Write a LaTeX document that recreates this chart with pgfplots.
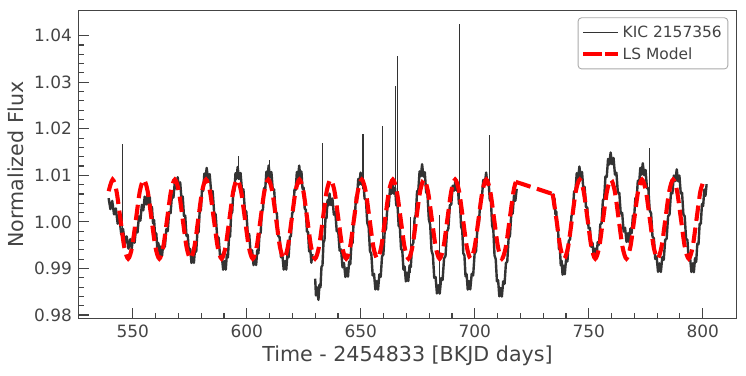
\documentclass[border=0pt]{standalone}
\usepackage{fontspec}
\setmainfont{DejaVu Sans}
\usepackage{pgfplots}
\usepackage{pgfplotstable}
\pgfplotsset{compat=1.18}
\definecolor{textgrey}{HTML}{444444}
\definecolor{spinecol}{HTML}{444444}
\definecolor{datacol}{HTML}{333333}
\definecolor{legendgrey}{HTML}{AAAAAA}

\pgfplotstableread{
t f
539.40 1.00510
540.19 1.00275
540.98 1.00451
541.78 1.00161
542.57 1.00290
543.36 0.99964
544.15 1.00070
544.94 0.99736
545.73 0.99850
546.53 0.99539
547.32 0.99689
548.11 0.99425
548.90 0.99630
549.53 0.99427
550.17 0.99696
550.80 0.99553
551.43 0.99875
552.07 0.99773
552.70 1.00120
553.33 1.00027
553.97 1.00365
554.60 1.00247
555.23 1.00544
555.87 1.00373
556.50 1.00610
556.98 1.00371
557.45 1.00534
557.93 1.00223
558.40 1.00325
558.88 0.99968
559.35 1.00040
559.83 0.99672
560.30 0.99755
560.78 0.99417
561.25 0.99546
561.73 0.99269
562.20 0.99470
562.83 0.99275
563.45 0.99570
564.08 0.99468
564.70 0.99843
565.33 0.99802
565.95 1.00215
566.58 1.00188
567.20 1.00588
567.83 1.00522
568.45 1.00860
569.08 1.00715
569.70 1.00960
570.25 1.00712
570.80 1.00849
571.35 1.00498
571.90 1.00547
572.45 1.00129
573.00 1.00135
573.55 0.99701
574.10 0.99722
574.65 0.99332
575.20 0.99421
575.75 0.99118
576.30 0.99310
576.81 0.99121
577.32 0.99434
577.83 0.99361
578.33 0.99773
578.84 0.99776
579.35 1.00235
579.86 1.00254
580.37 1.00698
580.88 1.00669
581.38 1.01036
581.89 1.00909
582.40 1.01160
583.06 1.00906
583.72 1.01026
584.38 1.00647
585.03 1.00660
585.69 1.00199
586.35 1.00160
587.01 0.99681
587.67 0.99660
588.33 0.99233
588.98 0.99294
589.64 0.98974
590.30 0.99160
590.78 0.98974
591.25 0.99295
591.73 0.99236
592.20 0.99665
592.68 0.99689
593.15 1.00170
593.63 1.00211
594.10 1.00675
594.58 1.00664
595.05 1.01045
595.53 1.00926
596.00 1.01180
596.63 1.00927
597.27 1.01051
597.90 1.00679
598.53 1.00700
599.17 1.00248
599.80 1.00220
600.43 0.99752
601.07 0.99740
601.70 0.99321
602.33 0.99389
602.97 0.99073
603.60 0.99260
604.10 0.99073
604.60 0.99391
605.10 0.99325
605.60 0.99748
606.10 0.99763
606.60 1.00235
607.10 1.00267
607.60 1.00723
608.10 1.00705
608.60 1.01079
609.10 1.00957
609.60 1.01210
610.20 1.00955
610.80 1.01073
611.40 1.00690
612.00 1.00697
612.60 1.00230
613.20 1.00185
613.80 0.99700
614.40 0.99672
615.00 0.99240
615.60 0.99297
616.20 0.98975
616.80 0.99160
617.32 0.98975
617.83 0.99297
618.35 0.99240
618.87 0.99673
619.38 0.99700
619.90 1.00185
620.42 1.00230
620.93 1.00698
621.45 1.00690
621.97 1.01073
622.48 1.00955
623.00 1.01210
623.48 1.00958
623.97 1.01083
624.45 1.00712
624.93 1.00735
625.42 1.00286
625.90 1.00260
626.38 0.99794
626.87 0.99785
627.35 0.99368
627.83 0.99437
628.32 0.99122
628.80 0.99310
nan nan
630.00 0.98780
630.35 0.98420
630.70 0.98600
631.00 0.98510
631.44 0.98326
631.88 0.98651
632.33 0.98597
632.77 0.99035
633.21 0.99068
633.65 0.99560
634.09 0.99612
634.53 1.00085
634.98 1.00083
635.42 1.00469
635.86 1.00354
636.30 1.00610
636.93 1.00363
637.57 1.00503
638.20 1.00156
638.83 1.00210
639.47 0.99797
640.10 0.99810
640.73 0.99383
641.37 0.99410
642.00 0.99024
642.63 0.99117
643.27 0.98817
643.90 0.99010
644.40 0.98825
644.90 0.99147
645.40 0.99090
645.90 0.99523
646.40 0.99550
646.90 1.00035
647.40 1.00080
647.90 1.00548
648.40 1.00540
648.90 1.00923
649.40 1.00805
649.90 1.01060
650.49 1.00800
651.08 1.00904
651.68 1.00499
652.27 1.00477
652.86 0.99977
653.45 0.99895
654.04 0.99373
654.63 0.99312
655.23 0.98851
655.82 0.98886
656.41 0.98550
657.00 0.98730
657.58 0.98546
658.17 0.98873
658.75 0.98822
659.33 0.99263
659.92 0.99299
660.50 0.99795
661.08 0.99851
661.67 1.00328
662.25 1.00328
662.83 1.00717
663.42 1.00604
664.00 1.00860
664.53 1.00607
665.05 1.00729
665.58 1.00355
666.10 1.00372
666.63 0.99917
667.15 0.99885
667.68 0.99413
668.20 0.99397
668.73 0.98975
669.25 0.99041
669.78 0.98723
670.30 0.98910
670.85 0.98730
671.40 0.99066
671.95 0.99031
672.50 0.99493
673.05 0.99553
673.60 1.00075
674.15 1.00157
674.70 1.00658
675.25 1.00679
675.80 1.01084
676.35 1.00980
676.90 1.01240
677.49 1.00976
678.08 1.01066
678.68 1.00639
679.27 1.00590
679.86 1.00056
680.45 0.99940
681.04 0.99384
681.63 0.99290
682.23 0.98801
682.82 0.98814
683.41 0.98464
684.00 0.98640
684.63 0.98459
685.27 0.98793
685.90 0.98755
686.53 0.99213
687.17 0.99269
687.80 0.99785
688.43 0.99861
689.07 1.00358
689.70 1.00375
690.33 1.00777
690.97 1.00671
691.60 1.00930
692.08 1.00673
692.57 1.00783
693.05 1.00388
693.53 1.00380
694.02 0.99895
694.50 0.99830
694.98 0.99325
695.47 0.99280
695.95 0.98832
696.43 0.98877
696.92 0.98547
697.40 0.98730
698.03 0.98550
698.67 0.98886
699.30 0.98851
699.93 0.99313
700.57 0.99373
701.20 0.99895
701.83 0.99977
702.47 1.00478
703.10 1.00499
703.73 1.00904
704.37 1.00800
705.00 1.01060
705.53 1.00798
706.05 1.00894
706.58 1.00477
707.10 1.00440
707.63 0.99921
708.15 0.99820
708.68 0.99279
709.20 0.99200
709.73 0.98723
710.25 0.98746
710.78 0.98402
711.30 0.98580
711.89 0.98396
712.48 0.98723
713.08 0.98672
713.67 0.99113
714.26 0.99149
714.85 0.99645
715.44 0.99701
716.03 1.00178
716.63 1.00178
717.22 1.00567
717.81 1.00454
718.40 1.00710
nan nan
734.20 1.00610
734.59 1.00364
734.98 1.00506
735.38 1.00163
735.77 1.00222
736.16 0.99816
736.55 0.99835
736.94 0.99414
737.33 0.99447
737.73 0.99067
738.12 0.99164
738.51 0.98866
738.90 0.99060
739.48 0.98876
740.07 0.99203
740.65 0.99152
741.23 0.99593
741.82 0.99629
742.40 1.00125
742.98 1.00181
743.57 1.00658
744.15 1.00658
744.73 1.01047
745.32 1.00934
745.90 1.01190
746.48 1.00940
747.05 1.01072
747.63 1.00712
748.20 1.00750
748.78 1.00318
749.35 1.00310
749.93 0.99862
750.50 0.99870
751.08 0.99468
751.65 0.99548
752.23 0.99240
752.80 0.99430
753.37 0.99245
753.93 0.99568
754.50 0.99512
755.07 0.99945
755.63 0.99973
756.20 1.00460
756.77 1.00507
757.33 1.00975
757.90 1.00968
758.47 1.01352
759.03 1.01235
759.60 1.01490
760.23 1.01241
760.87 1.01374
761.50 1.01017
762.13 1.01057
762.77 1.00629
763.40 1.00625
764.03 1.00181
764.67 1.00192
765.30 0.99793
765.93 0.99876
766.57 0.99569
767.20 0.99760
767.74 0.99566
768.28 0.99861
768.83 0.99760
769.37 1.00135
769.91 1.00096
770.45 1.00510
770.99 1.00484
771.53 1.00885
772.08 1.00820
772.62 1.01160
773.16 1.01015
773.70 1.01260
774.31 1.01003
774.92 1.01116
775.53 1.00725
776.13 1.00722
776.74 1.00243
777.35 1.00185
777.96 0.99687
778.57 0.99647
779.18 0.99205
779.78 0.99254
780.39 0.98927
781.00 0.99110
781.63 0.98924
782.27 0.99245
782.90 0.99186
783.53 0.99615
784.17 0.99639
784.80 1.00120
785.43 1.00161
786.07 1.00625
786.70 1.00614
787.33 1.00995
787.97 1.00876
788.60 1.01130
789.18 1.00876
789.77 1.00995
790.35 1.00614
790.93 1.00625
791.52 1.00161
792.10 1.00120
792.68 0.99639
793.27 0.99615
793.85 0.99186
794.43 0.99245
795.02 0.98924
795.60 0.99110
796.11 0.98919
796.62 0.99224
797.12 0.99139
797.63 0.99535
798.14 0.99520
798.65 0.99960
799.16 0.99960
799.67 1.00385
800.18 1.00341
800.68 1.00696
801.19 1.00561
801.70 1.00810
}\fluxtab

\pgfplotstableread{
t f
545.40 0.99850
545.40 1.01670
nan nan
596.30 1.00900
596.30 1.01420
nan nan
609.90 1.00950
609.90 1.01330
nan nan
633.30 0.99300
633.30 1.01700
nan nan
651.00 1.00700
651.00 1.01890
nan nan
659.50 0.99300
659.50 1.02060
nan nan
665.30 1.00500
665.30 1.02920
nan nan
666.00 1.00400
666.00 1.03570
nan nan
671.90 0.98900
671.90 1.00100
nan nan
684.50 0.98600
684.50 1.00140
nan nan
693.40 1.00400
693.40 1.04260
nan nan
706.30 1.00700
706.30 1.01870
nan nan
776.60 1.00300
776.60 1.01590
}\spiketab

\begin{document}
\begin{tikzpicture}
\useasboundingbox (-78.3bp,-57.7bp) rectangle (667.7bp,318.3bp);
\begin{axis}[
  scale only axis, width=658.4bp, height=308bp,
  xmin=526.1, xmax=814.9, ymin=0.9793, ymax=1.04545,
  axis line style={color=spinecol, line width=1.25bp},
  tick align=inside, xtick pos=bottom, ytick pos=left,
  major tick length=10.5bp, minor tick length=5.5bp,
  every tick/.style={color=spinecol, line width=1.1bp},
  minor x tick num=4, minor y tick num=4,
  xtick={550,600,650,700,750,800},
  xticklabels={550,600,650,700,750,800},
  ytick={0.98,0.99,1.00,1.01,1.02,1.03,1.04},
  yticklabels={0.98,0.99,1.00,1.01,1.02,1.03,1.04},
  /pgf/number format/assume math mode=true,
  ticklabel style={font=\fontsize{17}{20}\selectfont, text=textgrey},
  xticklabel style={anchor=base, inner sep=0pt, yshift=-19.4bp},
  yticklabel style={anchor=east, inner sep=0pt, xshift=-6.2bp},
  xlabel={Time - 2454833 [BKJD days]},
  ylabel={Normalized Flux},
  every axis x label/.style={at={(axis description cs:0.5,-0.14091)}, anchor=base},
  every axis y label/.style={at={(axis description cs:-0.08338,0.5)}, anchor=base, rotate=90},
  label style={font=\fontsize{20.7}{24}\selectfont, text=textgrey},
  unbounded coords=jump,
  legend cell align=left,
  legend style={at={(axis description cs:1,1)}, anchor=north east,
    xshift=-8.4bp, yshift=-7bp, draw=legendgrey, line width=0.9bp,
    rounded corners=3.5bp, fill=white,
    font=\fontsize{15.5}{18}\selectfont, text=textgrey,
    inner xsep=3bp, inner ysep=5bp, row sep=3bp,
    nodes={inner sep=3bp}},
  legend image code/.code={\draw[#1] (3bp,0bp) -- (26bp,0bp); \path (0bp,0bp) -- (34.5bp,0bp);},
]
\addlegendimage{color=datacol, line width=1bp}
\addlegendentry{KIC 2157356}
\addlegendimage{color=red, line width=4.1bp, dash pattern=on 15.5bp off 6.7bp}
\addlegendentry{LS Model}

\addplot[forget plot, color=datacol, line width=2.4bp, line join=round] table[x=t,y=f] {\fluxtab};
\addplot[forget plot, color=datacol, line width=1.1bp] table[x=t,y=f] {\spiketab};

\addplot[forget plot, color=red, line width=4.1bp, dash pattern=on 15.5bp off 6.7bp, smooth] coordinates {
(539.44,1.0066)
(541.15,1.0091) (542.86,1.0066) (544.57,1.0006) (546.27,0.9946) (547.98,0.9921) (549.69,0.9946) (551.40,1.0006) (553.10,1.0066)
(554.81,1.0091) (556.52,1.0066) (558.23,1.0006) (559.93,0.9946) (561.64,0.9921) (563.35,0.9946) (565.06,1.0006) (566.76,1.0066)
(568.47,1.0091) (570.18,1.0066) (571.89,1.0006) (573.59,0.9946) (575.30,0.9921) (577.01,0.9946) (578.72,1.0006) (580.42,1.0066)
(582.13,1.0091) (583.84,1.0066) (585.55,1.0006) (587.25,0.9946) (588.96,0.9921) (590.67,0.9946) (592.38,1.0006) (594.08,1.0066)
(595.79,1.0091) (597.50,1.0066) (599.21,1.0006) (600.91,0.9946) (602.62,0.9921) (604.33,0.9946) (606.04,1.0006) (607.74,1.0066)
(609.45,1.0091) (611.16,1.0066) (612.87,1.0006) (614.57,0.9946) (616.28,0.9921) (617.99,0.9946) (619.70,1.0006) (621.40,1.0066)
(623.11,1.0091) (624.82,1.0066) (626.53,1.0006) (628.23,0.9946) (629.94,0.9921) (631.65,0.9946) (633.36,1.0006) (635.06,1.0066)
(636.77,1.0091) (638.48,1.0066) (640.19,1.0006) (641.89,0.9946) (643.60,0.9921) (645.31,0.9946) (647.02,1.0006) (648.72,1.0066)
(650.43,1.0091) (652.14,1.0066) (653.85,1.0006) (655.55,0.9946) (657.26,0.9921) (658.97,0.9946) (660.68,1.0006) (662.38,1.0066)
(664.09,1.0091) (665.80,1.0066) (667.51,1.0006) (669.21,0.9946) (670.92,0.9921) (672.63,0.9946) (674.34,1.0006) (676.04,1.0066)
(677.75,1.0091) (679.46,1.0066) (681.17,1.0006) (682.87,0.9946) (684.58,0.9921) (686.29,0.9946) (688.00,1.0006) (689.70,1.0066)
(691.41,1.0091) (693.12,1.0066) (694.83,1.0006) (696.53,0.9946) (698.24,0.9921) (699.95,0.9946) (701.66,1.0006) (703.36,1.0066)
(705.07,1.0091) (706.78,1.0066) (708.49,1.0006) (710.19,0.9946) (711.90,0.9921) (713.61,0.9946) (715.32,1.0006) (717.02,1.0066)
(718.00,1.0086)
};
\addplot[forget plot, color=red, line width=4.1bp, dash pattern=on 15.5bp off 6.7bp] coordinates {
(718.00,1.0086) (734.20,1.0060)
};
\addplot[forget plot, color=red, line width=4.1bp, dash pattern=on 15.5bp off 6.7bp, smooth] coordinates {
(734.20,1.0060)
(735.81,1.0006) (737.51,0.9946) (739.22,0.9921) (740.93,0.9946) (742.64,1.0006) (744.34,1.0066)
(746.05,1.0091) (747.76,1.0066) (749.47,1.0006) (751.17,0.9946) (752.88,0.9921) (754.59,0.9946) (756.30,1.0006) (758.00,1.0066)
(759.71,1.0091) (761.42,1.0066) (763.13,1.0006) (764.83,0.9946) (766.54,0.9921) (768.25,0.9946) (769.96,1.0006) (771.66,1.0066)
(773.37,1.0091) (775.08,1.0066) (776.79,1.0006) (778.49,0.9946) (780.20,0.9921) (781.91,0.9946) (783.62,1.0006) (785.32,1.0066)
(787.03,1.0091) (788.74,1.0066) (790.45,1.0006) (792.15,0.9946) (793.86,0.9921) (795.57,0.9946) (797.28,1.0006) (798.98,1.0066)
(800.69,1.0091)
};
\end{axis}
\end{tikzpicture}
\end{document}
